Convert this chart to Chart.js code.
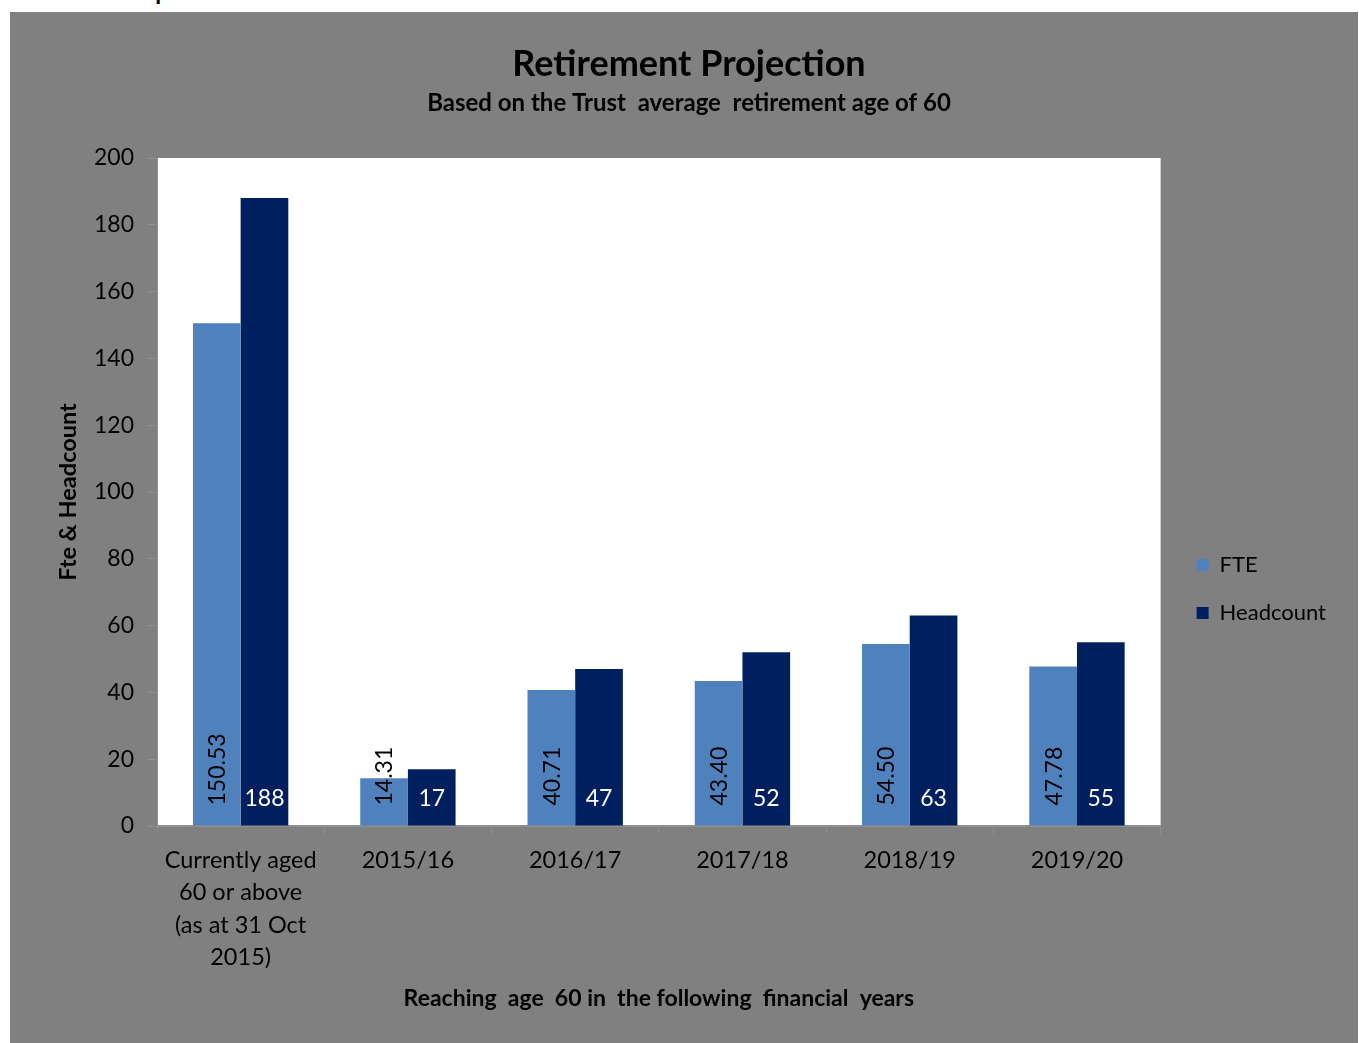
<!DOCTYPE html>
<html>
<head>
<meta charset="utf-8">
<title>Retirement Projection</title>
<script src="https://cdn.jsdelivr.net/npm/chart.js@4.4.1/dist/chart.umd.min.js"></script>
<style>
  body { margin:0; background:#fff; width:1359px; height:1043px; overflow:hidden; position:relative; }
  #head { position:absolute; left:30px; top:-21px; font:bold 24px/24px Lato, sans-serif; color:#000; white-space:nowrap; }
  #box  { position:absolute; left:10px; top:12px; width:1348px; height:1031px; background:#808080; }
</style>
</head>
<body>
<div id="head">Retirement profile of the Trust workforce</div>
<div id="box"><canvas id="cRetire"></canvas></div>
<script>
// ── Data ──────────────────────────────────────────────────
const categories = [
  ['Currently aged', '60 or above', '(as at 31 Oct', '2015)'],
  '2015/16', '2016/17', '2017/18', '2018/19', '2019/20',
];
const fteValues       = [150.53, 14.31, 40.71, 43.40, 54.50, 47.78];
const headcountValues = [188, 17, 47, 52, 63, 55];
const yTicks = [0, 20, 40, 60, 80, 100, 120, 140, 160, 180, 200];

const FONT = 'Lato';
const AXIS_COL = '#8f8f8f';

// white plot area on the grey chart background
const plotBg = {
  id: 'plotBg',
  beforeDraw(chart) {
    const { ctx, chartArea: a } = chart;
    ctx.save();
    ctx.fillStyle = '#fff';
    ctx.fillRect(a.left, a.top, a.right - a.left, a.bottom - a.top);
    ctx.restore();
  }
};

// value labels at the inside base of each bar
const barLabels = {
  id: 'barLabels',
  afterDatasetsDraw(chart) {
    const ctx = chart.ctx;
    ctx.save();
    ctx.font = `23px ${FONT}`;
    chart.data.datasets.forEach((ds, di) => {
      chart.getDatasetMeta(di).data.forEach((bar, i) => {
        const v = ds.data[i];
        if (di === 0) {
          // FTE: rotated, black
          ctx.save();
          ctx.translate(bar.x + 1, bar.base - 20);
          ctx.rotate(-Math.PI / 2);
          ctx.fillStyle = '#000';
          ctx.textAlign = 'left';
          ctx.textBaseline = 'middle';
          ctx.fillText(v.toFixed(2), 0, 0);
          ctx.restore();
        } else {
          // Headcount: horizontal, white
          ctx.fillStyle = '#fff';
          ctx.textAlign = 'center';
          ctx.textBaseline = 'alphabetic';
          ctx.fillText(String(v), bar.x, bar.base - 20);
        }
      });
    });
    ctx.restore();
  }
};

new Chart(document.getElementById('cRetire'), {
  type: 'bar',
  data: {
    labels: categories,
    datasets: [
      { label: 'FTE',       data: fteValues,       backgroundColor: '#4f81bd', categoryPercentage: 0.57, barPercentage: 1 },
      { label: 'Headcount', data: headcountValues, backgroundColor: '#001f5f', categoryPercentage: 0.57, barPercentage: 1 },
    ]
  },
  plugins: [plotBg, barLabels],
  options: {
    responsive: true, maintainAspectRatio: false, animation: false,
    // left padding shifts the centred titles to the right, as in the original
    layout: { padding: { top: 0, left: 32, right: 22, bottom: 23 } },
    plugins: {
      tooltip: { enabled: false },
      title: {
        display: true, text: 'Retirement Projection', color: '#000',
        font: { family: FONT, size: 36, weight: 'bold', lineHeight: 1.2 },
        padding: { top: 31, bottom: 3 },
      },
      subtitle: {
        display: true, text: 'Based on the Trust  average  retirement age of 60', color: '#000',
        font: { family: FONT, size: 24, weight: 'bold', lineHeight: 1.2 },
        padding: { top: 0, bottom: 40 },
      },
      legend: {
        position: 'right', align: 'center',
        // empty title only pushes the items down to where the original sits
        title: { display: true, text: '', font: { size: 1 }, padding: { top: 145, bottom: 0 } },
        labels: {
          color: '#000', boxWidth: 12, boxHeight: 12, padding: 26,
          font: { family: FONT, size: 22 },
        },
      },
    },
    scales: {
      x: {
        grid: { drawOnChartArea: false, drawTicks: true, tickLength: 8, color: AXIS_COL, offset: true },
        border: { display: true, color: AXIS_COL, width: 2 },
        ticks: { color: '#000', padding: 10, maxRotation: 0, autoSkip: false,
                 font: { family: FONT, size: 23.5, lineHeight: '32.5px' } },
        title: { display: true, text: 'Reaching  age  60 in  the following  financial  years', color: '#000',
                 font: { family: FONT, size: 23, weight: 'bold', lineHeight: 1.2 },
                 padding: { top: 4, bottom: 8 } },
        afterFit: s => { s.height = 194; },
      },
      y: {
        min: 0, max: 200,
        afterBuildTicks: s => { s.ticks = yTicks.map(v => ({ value: v })); },
        grid: { drawOnChartArea: false, drawTicks: true, tickLength: 9, color: AXIS_COL },
        border: { display: true, color: AXIS_COL },
        ticks: { color: '#000', padding: 14, font: { family: FONT, size: 23 } },
        title: { display: true, text: 'Fte & Headcount', color: '#000',
                 font: { family: FONT, size: 23.5, weight: 'bold', lineHeight: 1.2 },
                 padding: { top: 12, bottom: 0 } },
        afterFit: s => { s.width = 115; },
      },
      // spacer between plot and legend
      yGap: {
        position: 'right', display: true,
        grid: { display: false }, border: { display: false }, ticks: { display: false },
        afterFit: s => { s.width = 10; },
      },
    },
  },
});
</script>
</body>
</html>
